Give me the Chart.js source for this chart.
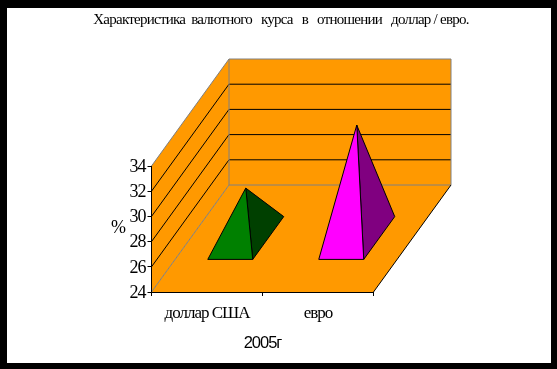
<!DOCTYPE html>
<html>
<head>
<meta charset="utf-8">
<title>Валютный курс</title>
<style>
html, body { margin: 0; padding: 0; background: #000; }
#wrap { width: 557px; height: 369px; }
</style>
<script src="https://cdn.jsdelivr.net/npm/chart.js@4"></script>
</head>
<body>
<div id="wrap"><canvas id="grafico" width="557" height="369"></canvas></div>
<script>
const categorias = ['доллар США', 'евро'];
const valores = [28, 33];
const yMin = 24;
const yMax = 34;
const yPaso = 2;
const titulo = 'Характеристика  валютного   курса   в   отношении   доллар / евро.';
const tituloY = '%';
const tituloX = '2005г';

const carasFrente = ['#008000', '#ff00ff'];
const carasLado = ['#004000', '#800080'];

// desplazamiento de la profundidad 3D
const fondoX = 77.5;
const fondoY = -107;

function poligono(ctx, puntos, relleno, borde) {
    ctx.beginPath();
    puntos.forEach((p, i) => i ? ctx.lineTo(p[0], p[1]) : ctx.moveTo(p[0], p[1]));
    ctx.closePath();
    if (relleno) { ctx.fillStyle = relleno; ctx.fill(); }
    if (borde) { ctx.strokeStyle = borde; ctx.lineWidth = 1; ctx.stroke(); }
}

function linea(ctx, x1, y1, x2, y2, color) {
    ctx.beginPath();
    ctx.moveTo(x1, y1);
    ctx.lineTo(x2, y2);
    ctx.strokeStyle = color;
    ctx.lineWidth = 1;
    ctx.stroke();
}

// marco negro, paredes y piso
const paredes = {
    id: 'paredes',
    beforeDraw(chart) {
        const ctx = chart.ctx;
        const a = chart.chartArea;
        ctx.save();
        ctx.fillStyle = '#000';
        ctx.fillRect(0, 0, 557, 369);
        ctx.fillStyle = '#fff';
        ctx.fillRect(7, 8, 544, 355);

        const naranja = '#ff9900';
        const gris = '#808080';
        const dx = fondoX, dy = fondoY;
        poligono(ctx, [[a.left, a.top], [a.left + dx, a.top + dy], [a.left + dx, a.bottom + dy], [a.left, a.bottom]], naranja);
        poligono(ctx, [[a.left + dx, a.top + dy], [a.right + dx, a.top + dy], [a.right + dx, a.bottom + dy], [a.left + dx, a.bottom + dy]], naranja);
        poligono(ctx, [[a.left, a.bottom], [a.right, a.bottom], [a.right + dx, a.bottom + dy], [a.left + dx, a.bottom + dy]], naranja);

        const y = chart.scales.y;
        y.ticks.forEach(t => {
            if (t.value === yMin || t.value === yMax) return;
            const py = y.getPixelForValue(t.value);
            linea(ctx, a.left, py, a.left + dx, py + dy, '#000');
            linea(ctx, a.left + dx, py + dy, a.right + dx, py + dy, '#000');
        });

        linea(ctx, a.left, a.top, a.left + dx, a.top + dy, gris);
        linea(ctx, a.left + dx, a.top + dy, a.right + dx, a.top + dy, gris);
        linea(ctx, a.right + dx, a.top + dy, a.right + dx, a.bottom + dy, gris);
        linea(ctx, a.left + dx, a.top + dy, a.left + dx, a.bottom + dy, gris);
        linea(ctx, a.left + dx, a.bottom + dy, a.right + dx, a.bottom + dy, gris);
        linea(ctx, a.left, a.bottom, a.left + dx, a.bottom + dy, gris);
        linea(ctx, a.right, a.bottom, a.right + dx, a.bottom + dy, '#000');
        ctx.restore();

        ctx.save();
        ctx.font = '15px "Liberation Serif"';
        ctx.letterSpacing = '-0.75px';
        ctx.fillStyle = '#000';
        ctx.textAlign = 'center';
        ctx.textBaseline = 'middle';
        ctx.fillText(titulo, 281, 20);
        ctx.restore();
        ctx.letterSpacing = '-1px';
    },
    beforeDatasetDraw(chart, args) {
        const ctx = chart.ctx;
        const meta = chart.getDatasetMeta(args.index);
        ctx.save();
        meta.data.forEach((barra, i) => {
            const mitad = barra.width / 2;
            const frente = 0.3, atras = 0.7;
            const fy = barra.base + fondoY * frente;
            const izq = [barra.x - mitad + fondoX * frente, fy];
            const der = [barra.x + mitad + fondoX * frente, fy];
            const tras = [barra.x + mitad + fondoX * atras, barra.base + fondoY * atras];
            const cima = [barra.x + fondoX * 0.5, barra.y + fondoY * 0.5];
            poligono(ctx, [cima, der, tras], carasLado[i], '#000');
            poligono(ctx, [cima, izq, der], carasFrente[i], '#000');
        });
        ctx.restore();
        return false;
    },
    afterDraw(chart) {
        const ctx = chart.ctx;
        ctx.save();
        ctx.font = '18px "Liberation Serif"';
        ctx.fillStyle = '#000';
        ctx.textAlign = 'center';
        ctx.textBaseline = 'middle';
        ctx.fillText(tituloY, 118, 228);
        ctx.restore();
    }
};

const ctx = document.getElementById('grafico').getContext('2d');
new Chart(ctx, {
    type: 'bar',
    data: {
        labels: categorias,
        datasets: [{
            data: valores,
            base: yMin,
            backgroundColor: carasFrente,
            barPercentage: 0.405,
            categoryPercentage: 1
        }]
    },
    options: {
        responsive: false,
        animation: false,
        layout: { padding: { left: 0, right: 183.5, top: 166, bottom: 16 } },
        plugins: {
            legend: { display: false },
            tooltip: { enabled: false }
        },
        scales: {
            x: {
                grid: { drawOnChartArea: false, tickLength: 4, color: '#000', offset: true },
                border: { color: '#000' },
                ticks: {
                    color: '#000',
                    font: { family: '"Liberation Serif"', size: 17 },
                    maxRotation: 0,
                    padding: 7
                },
                title: {
                    display: true,
                    text: tituloX,
                    color: '#000',
                    font: { family: '"Liberation Sans"', size: 16.5 },
                    padding: { top: 8, bottom: 0 }
                },
                afterFit(escala) { escala.height = 61; }
            },
            y: {
                min: yMin,
                max: yMax,
                grid: { drawOnChartArea: false, tickLength: 4, color: '#000' },
                border: { color: '#000' },
                ticks: {
                    stepSize: yPaso,
                    autoSkip: false,
                    color: '#000',
                    font: { family: '"Liberation Serif"', size: 18 },
                    padding: 2,
                    labelOffset: 1
                },
                afterFit(escala) { escala.width = 151.5; }
            }
        }
    },
    plugins: [paredes]
});
</script>
</body>
</html>
